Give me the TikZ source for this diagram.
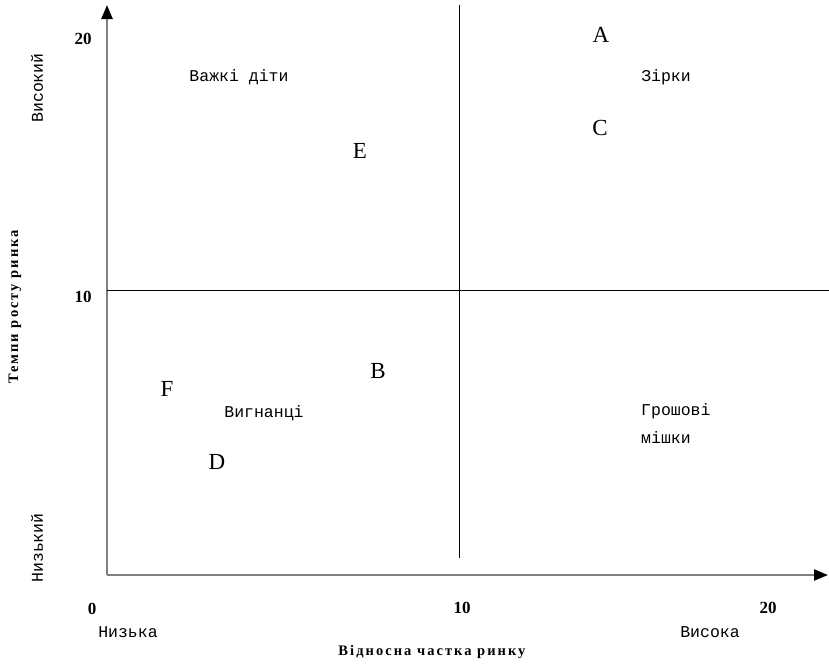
\documentclass[tikz,border=0pt]{standalone}
\usepackage{fontspec}
\setmainfont{Liberation Serif}
\newfontfamily\monof{Liberation Mono}
\newfontfamily\titlef[LetterSpace=14]{Liberation Serif}
\usetikzlibrary{arrows.meta}
\begin{document}
\begin{tikzpicture}[x=1pt,y=-1pt,
  axisline/.style={draw=black!50, line width=2.4pt, -{Triangle[length=14pt,width=11pt,color=black,fill=black]}},
  divider/.style={draw=black, line width=0.9pt},
  letter/.style={font=\fontsize{23}{26}\selectfont, inner sep=0pt},
  quad/.style={font=\monof\fontsize{16.5}{28}\selectfont, inner sep=0pt},
  tick/.style={font=\bfseries\fontsize{17}{20}\selectfont, inner sep=0pt},
  axtitle/.style={font=\titlef\bfseries\fontsize{14.5}{16}\selectfont, inner sep=0pt}]
\useasboundingbox (0,0) rectangle (829,664);
% axes
\coordinate (O) at (107,575);
\coordinate (ytop) at (107,5);
\coordinate (xend) at (828,575);
\draw[axisline] (O) -- (ytop);
\draw[axisline] (O) -- (xend);
% dividers
\coordinate (vtop) at (459,5);
\coordinate (vbot) at (459,558);
\coordinate (hl) at (107,290);
\coordinate (hr) at (829,290);
\draw[divider] (vtop) -- (vbot);
\draw[divider] (hl) -- (hr);
% tick labels
\node[tick] (y20) at (83,39) {20};
\node[tick] (y10) at (83,297) {10};
\node[tick] (x0) at (92,609) {0};
\node[tick] (x10) at (462,608) {10};
\node[tick] (x20) at (768,608) {20};
% axis descriptors
\node[quad, rotate=90] (high) at (37,88) {Високий};
\node[quad, rotate=90] (low) at (37,548) {Низький};
\node[quad] (lowx) at (128,632) {Низька};
\node[quad] (highx) at (710,632) {Висока};
\node[axtitle, rotate=90] (ytitle) at (15,307) {Темпи росту ринка};
\node[axtitle] (xtitle) at (432,652) {Відносна частка ринку};
% quadrant labels
\node[quad] (q1) at (239,77) {Важкі діти};
\node[quad] (q2) at (666,77) {Зірки};
\node[quad] (q3) at (264,413) {Вигнанці};
\node[quad, anchor=west, align=left] (q4) at (641,424) {Грошові\\мішки};
% points
\node[letter] (A) at (601,35) {A};
\node[letter] (C) at (600,128) {C};
\node[letter] (E) at (360,151) {E};
\node[letter] (B) at (378,371) {B};
\node[letter] (F) at (167,389) {F};
\node[letter] (D) at (217,462) {D};
\end{tikzpicture}
\end{document}
